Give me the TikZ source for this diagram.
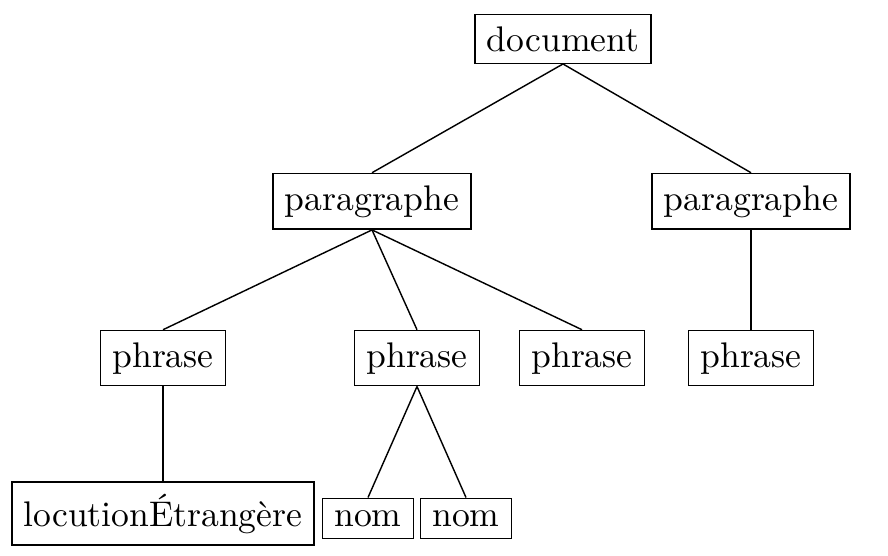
\documentclass[tikz,border=0pt]{standalone}
\begin{document}
\begin{tikzpicture}[x=0.28089pt,y=-0.28089pt,
  box/.style={draw,anchor=base,inner sep=0.333em,font=\fontsize{10}{12}\selectfont},
  edge/.style={draw,line width=0.4pt}]
\useasboundingbox (0,0) rectangle (888,555);
\node[box] (doc) at (563,51) {document};
\node[box] (p1) at (372,210) {paragraphe};
\node[box] (p2) at (751,210) {paragraphe};
\node[box] (s1) at (163,367) {phrase};
\node[box] (s2) at (417,367) {phrase};
\node[box] (s3) at (582,367) {phrase};
\node[box] (s4) at (751,367) {phrase};
\node[box] (loc) at (163,526) {locutionÉtrangère};
\node[box] (n1) at (368,526) {nom};
\node[box] (n2) at (466,526) {nom};
\draw[edge] (doc.south) -- (p1.north);
\draw[edge] (doc.south) -- (p2.north);
\draw[edge] (p1.south) -- (s1.north);
\draw[edge] (p1.south) -- (s2.north);
\draw[edge] (p1.south) -- (s3.north);
\draw[edge] (p2.south) -- (s4.north);
\draw[edge] (s1.south) -- (loc.north);
\draw[edge] (s2.south) -- (n1.north);
\draw[edge] (s2.south) -- (n2.north);
\end{tikzpicture}
\end{document}
